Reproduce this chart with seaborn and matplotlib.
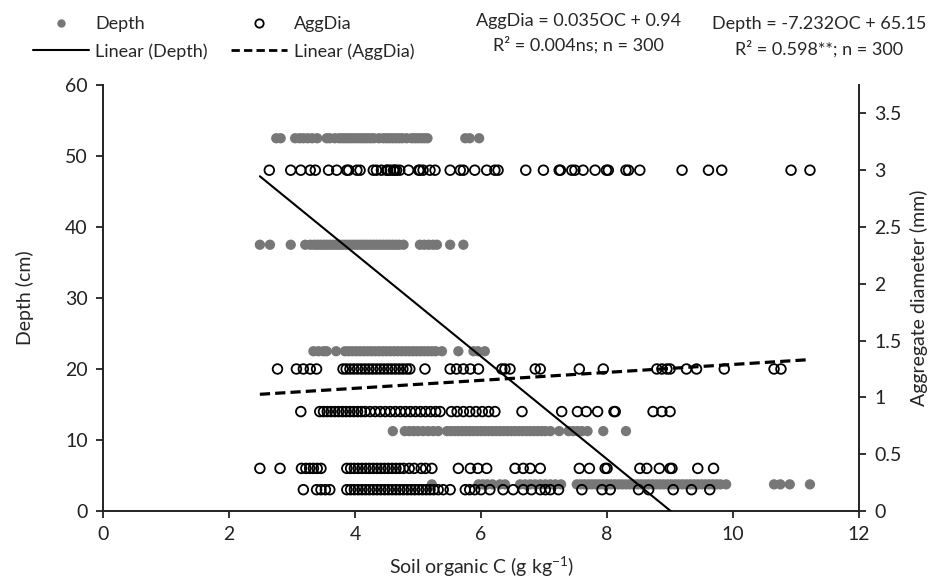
import numpy as np
import pandas as pd
import seaborn as sns
import matplotlib.pyplot as plt
from matplotlib.lines import Line2D

# Datos: carbono organico (g/kg) por nivel de profundidad / diametro
depth_52 = [2.75, 2.82, 3.05, 3.12, 3.18, 3.25, 3.32, 3.40, 3.55, 3.60, 3.68, 3.75, 3.80,
            3.85, 3.90, 3.95, 4.00, 4.05, 4.10, 4.15, 4.20, 4.25, 4.30, 4.38, 4.45, 4.50,
            4.55, 4.60, 4.65, 4.70, 4.75, 4.82, 4.90, 4.95, 5.00, 5.05, 5.10, 5.15, 5.75,
            5.82, 5.97]
depth_37 = [2.49, 2.65, 2.98, 3.21, 3.29, 3.35, 3.40, 3.45, 3.50, 3.55, 3.60, 3.65, 3.70,
            3.75, 3.80, 3.85, 3.90, 3.95, 4.00, 4.05, 4.10, 4.15, 4.20, 4.25, 4.30, 4.35,
            4.40, 4.45, 4.50, 4.55, 4.60, 4.65, 4.70, 4.77, 5.03, 5.10, 5.17, 5.24, 5.30,
            5.51, 5.72]
depth_22 = [3.34, 3.42, 3.50, 3.55, 3.70, 3.84, 3.90, 3.96, 4.02, 4.08, 4.14, 4.20, 4.26,
            4.32, 4.38, 4.44, 4.50, 4.56, 4.62, 4.68, 4.74, 4.80, 4.86, 4.92, 4.98, 5.04,
            5.10, 5.16, 5.22, 5.28, 5.38, 5.64, 5.88, 5.95, 6.06]
depth_11 = [4.60, 4.79, 4.86, 4.93, 5.00, 5.08, 5.16, 5.24, 5.32, 5.46, 5.52, 5.58, 5.64,
            5.70, 5.76, 5.82, 5.88, 5.94, 6.00, 6.06, 6.12, 6.18, 6.24, 6.30, 6.36, 6.42,
            6.48, 6.54, 6.60, 6.66, 6.72, 6.78, 6.84, 6.90, 6.96, 7.02, 7.10, 7.24, 7.39,
            7.46, 7.53, 7.60, 7.69, 7.94, 8.30]
depth_4 = [5.22, 5.96, 6.03, 6.10, 6.18, 6.30, 6.38, 6.62, 6.70, 6.78, 6.86, 6.94, 7.02,
           7.10, 7.18, 7.27, 7.52, 7.58, 7.64, 7.70, 7.76, 7.82, 7.88, 7.94, 8.00, 8.06,
           8.12, 8.18, 8.24, 8.30, 8.36, 8.42, 8.48, 8.54, 8.60, 8.66, 8.72, 8.78, 8.84,
           8.90, 8.96, 9.02, 9.08, 9.14, 9.20, 9.26, 9.32, 9.38, 9.44, 9.50, 9.56, 9.62,
           9.68, 9.74, 9.80, 9.89, 10.65, 10.75, 10.90, 11.22]

agg_3 = [2.64, 2.98, 3.14, 3.29, 3.37, 3.58, 3.71, 3.87, 3.90, 4.03, 4.08, 4.29, 4.34,
         4.42, 4.50, 4.52, 4.56, 4.61, 4.63, 4.66, 4.71, 4.85, 5.01, 5.03, 5.08, 5.19,
         5.27, 5.51, 5.67, 5.72, 5.90, 6.09, 6.22, 6.27, 6.71, 6.99, 7.24, 7.26, 7.44,
         7.49, 7.62, 7.81, 7.99, 8.02, 8.30, 8.34, 8.52, 9.19, 9.61, 9.82, 10.92, 11.22]
agg_125 = [2.77, 3.07, 3.18, 3.29, 3.39, 3.81, 3.86, 3.92, 3.98, 4.04, 4.10, 4.16, 4.22,
           4.28, 4.34, 4.40, 4.46, 4.52, 4.58, 4.64, 4.70, 4.76, 4.82, 4.87, 5.11, 5.51,
           5.61, 5.72, 5.83, 5.96, 6.33, 6.38, 6.46, 6.86, 6.94, 7.56, 7.94, 8.79, 8.87,
           8.95, 9.00, 9.26, 9.42, 9.86, 10.65, 10.76]
agg_0875 = [3.14, 3.44, 3.50, 3.56, 3.62, 3.68, 3.74, 3.80, 3.86, 3.92, 3.98, 4.04, 4.10,
            4.16, 4.24, 4.32, 4.40, 4.48, 4.56, 4.64, 4.72, 4.80, 4.88, 4.96, 5.04, 5.12,
            5.20, 5.28, 5.35, 5.53, 5.62, 5.72, 5.82, 5.92, 6.02, 6.12, 6.22, 6.65, 7.28,
            7.53, 7.67, 7.85, 8.11, 8.13, 8.73, 8.87, 9.00]
agg_0375 = [2.49, 2.81, 3.15, 3.22, 3.28, 3.34, 3.40, 3.46, 3.87, 3.93, 3.99, 4.05, 4.11,
            4.17, 4.23, 4.29, 4.35, 4.41, 4.47, 4.53, 4.59, 4.65, 4.71, 4.77, 4.86, 4.94,
            5.05, 5.12, 5.22, 5.64, 5.83, 5.95, 6.09, 6.54, 6.67, 6.78, 6.94, 7.56, 7.72,
            7.97, 8.00, 8.52, 8.63, 8.83, 9.00, 9.03, 9.44, 9.69]
agg_01875 = [3.18, 3.39, 3.46, 3.53, 3.60, 3.87, 3.93, 3.99, 4.05, 4.11, 4.17, 4.23, 4.29,
             4.35, 4.41, 4.47, 4.53, 4.59, 4.65, 4.71, 4.77, 4.83, 4.89, 4.95, 5.01, 5.07,
             5.13, 5.19, 5.25, 5.32, 5.40, 5.51, 5.75, 5.82, 5.90, 6.00, 6.14, 6.35, 6.51,
             6.67, 6.80, 6.94, 7.02, 7.10, 7.23, 7.60, 7.92, 8.05, 8.50, 8.66, 9.05, 9.34,
             9.63]

depth_levels = [52.5, 37.5, 22.5, 11.25, 3.75]
agg_levels = [3.0, 1.25, 0.875, 0.375, 0.1875]

# Coeficientes de las rectas (del texto del grafico)
depth_slope, depth_int = -7.232, 65.15
agg_slope, agg_int = 0.035, 0.94

depth_rows = [depth_52, depth_37, depth_22, depth_11, depth_4]
agg_rows = [agg_3, agg_125, agg_0875, agg_0375, agg_01875]
df_depth = pd.DataFrame({"OC": np.concatenate(depth_rows),
                         "Depth": np.concatenate([[lv] * len(r) for lv, r in zip(depth_levels, depth_rows)])})
df_agg = pd.DataFrame({"OC": np.concatenate(agg_rows),
                       "AggDia": np.concatenate([[lv] * len(r) for lv, r in zip(agg_levels, agg_rows)])})

sns.set_style("ticks")
plt.rcParams["font.family"] = ["Lato", "DejaVu Sans"]
plt.rcParams["mathtext.default"] = "regular"

fig = plt.figure(figsize=(9.42, 5.87), dpi=100)
ax = fig.add_axes([0.1093, 0.1295, 0.8027, 0.7257])
ax2 = ax.twinx()

gray = "#777777"
sns.scatterplot(data=df_depth, x="OC", y="Depth", ax=ax, color=gray, s=55,
                edgecolor="none", zorder=3)
sns.scatterplot(data=df_agg, x="OC", y="AggDia", ax=ax2, s=48, marker="o",
                facecolor="none", edgecolor="black", linewidth=1.3, zorder=3)

xd = np.array([df_depth["OC"].min(), df_depth["OC"].max()])
ax.plot(xd, depth_slope * xd + depth_int, color="black", lw=1.5, zorder=4)
xa = np.array([df_agg["OC"].min(), df_agg["OC"].max()])
ax2.plot(xa, agg_slope * xa + agg_int, color="black", lw=2.3, ls=(0, (3.2, 1.6)), zorder=4)

ax.set_xlim(0, 12)
ax.set_ylim(0, 60)
ax2.set_ylim(0, 3.75)
ax.set_xticks(range(0, 13, 2))
ax.set_yticks(range(0, 61, 10))
ax2.set_yticks([0, 0.5, 1, 1.5, 2, 2.5, 3, 3.5])
ax2.set_yticklabels(["0", "0.5", "1", "1.5", "2", "2.5", "3", "3.5"])

for a in (ax, ax2):
    a.spines["top"].set_visible(False)
    for s in a.spines.values():
        s.set_linewidth(1.4)
        s.set_color("#222222")
    a.tick_params(labelsize=14, length=5, width=1.3, color="#222222", labelcolor="#222222", pad=6)
ax.spines["right"].set_visible(False)
ax2.spines["left"].set_visible(False)
ax2.spines["bottom"].set_visible(False)

ax.set_xlabel("Soil organic C (g kg$^{-1}$)", fontsize=14, labelpad=8)
ax.set_ylabel("Depth (cm)", fontsize=14, labelpad=22)
ax2.set_ylabel("Aggregate diameter (mm)", fontsize=14, labelpad=6)

handles = [
    Line2D([], [], ls="none", marker="o", markersize=6, color=gray, markeredgecolor="none"),
    Line2D([], [], color="black", lw=1.5),
    Line2D([], [], ls="none", marker="o", markersize=6, markerfacecolor="none",
           markeredgecolor="black", markeredgewidth=1.3),
    Line2D([], [], color="black", lw=2.0, ls=(0, (3, 1.5))),
]
labels = ["Depth", "Linear (Depth)", "AggDia", "Linear (AggDia)"]
fig.legend(handles, labels, ncol=2, loc="upper left", bbox_to_anchor=(0.018, 1.0),
           frameon=False, fontsize=13, handlelength=3.1, handletextpad=0.35,
           columnspacing=1.3, labelspacing=0.6)

fig.text(0.614, 0.978, "AggDia = 0.035OC + 0.94", ha="center", va="top", fontsize=13)
fig.text(0.614, 0.938, "R² = 0.004ns; n = 300", ha="center", va="top", fontsize=13)
fig.text(0.870, 0.972, "Depth = -7.232OC + 65.15", ha="center", va="top", fontsize=13)
fig.text(0.870, 0.932, "R² = 0.598**; n = 300", ha="center", va="top", fontsize=13)

fig.savefig("out.png", dpi=100)
